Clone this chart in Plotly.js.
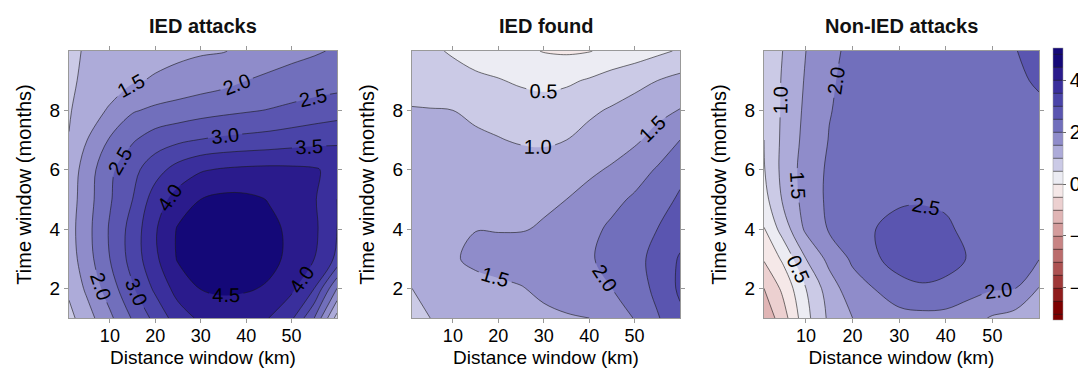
<!DOCTYPE html>
<html><head><meta charset="utf-8">
<script src="https://cdn.plot.ly/plotly-3.0.1.min.js"></script>
<style>html,body{margin:0;padding:0;background:#fff}#chart{width:1078px;height:369px}</style>
</head><body><div id="chart"></div>
<script>
// ---- data (rows: time window 1..10 months, columns: distance window km) ----
const distanceKm = [1, 5, 10, 15, 20, 25, 30, 35, 40, 45, 50, 55, 60];
const timeMonths = [1, 2, 3, 4, 5, 6, 7, 8, 9, 10];
const panelTitles = ['IED attacks', 'IED found', 'Non-IED attacks'];
const xTickVals = [10, 20, 30, 40, 50];
const yTickVals = [2, 4, 6, 8];
const colorbarTicks = [-4, -2, 0, 2, 4];

const iedAttacks = [
  [0.85, 1.3, 1.9, 2.55, 3.15, 3.75, 4.1, 4.25, 4.2, 4.0, 3.6, 2.5, 0.8],
  [1.1, 1.6, 2.25, 2.95, 3.6, 4.2, 4.52, 4.58, 4.55, 4.45, 4.1, 3.5, 2.0],
  [1.25, 1.8, 2.5, 3.2, 3.9, 4.55, 4.75, 4.8, 4.78, 4.62, 4.4, 4.0, 3.4],
  [1.3, 1.85, 2.55, 3.2, 3.95, 4.55, 4.75, 4.8, 4.75, 4.6, 4.42, 4.1, 3.5],
  [1.25, 1.8, 2.45, 3.0, 3.75, 4.2, 4.5, 4.62, 4.6, 4.48, 4.3, 4.05, 3.5],
  [1.2, 1.75, 2.4, 2.85, 3.3, 3.7, 3.95, 4.05, 4.1, 4.12, 4.1, 4.05, 3.85],
  [1.02, 1.5, 2.05, 2.45, 2.75, 2.9, 3.02, 3.1, 3.15, 3.2, 3.28, 3.35, 3.42],
  [0.95, 1.3, 1.55, 1.95, 2.1, 2.2, 2.3, 2.38, 2.45, 2.52, 2.6, 2.7, 2.78],
  [0.88, 1.15, 1.3, 1.45, 1.55, 1.65, 1.75, 1.85, 2.0, 2.1, 2.2, 2.25, 2.3],
  [0.8, 1.1, 1.25, 1.3, 1.35, 1.4, 1.45, 1.48, 1.6, 1.75, 1.85, 1.95, 2.05]
];

const iedFound = [
  [0.85, 1.0, 1.15, 1.25, 1.32, 1.37, 1.42, 1.46, 1.5, 1.75, 2.02, 2.45, 2.9],
  [1.0, 1.12, 1.25, 1.35, 1.42, 1.48, 1.58, 1.7, 1.85, 2.0, 2.2, 2.65, 3.08],
  [1.3, 1.35, 1.45, 1.6, 1.65, 1.68, 1.72, 1.8, 1.95, 2.15, 2.35, 2.65, 3.05],
  [1.32, 1.36, 1.42, 1.49, 1.48, 1.48, 1.53, 1.65, 1.85, 2.1, 2.35, 2.5, 2.8],
  [1.28, 1.3, 1.32, 1.35, 1.38, 1.42, 1.45, 1.5, 1.65, 1.85, 2.08, 2.35, 2.55],
  [1.22, 1.22, 1.22, 1.22, 1.2, 1.2, 1.22, 1.3, 1.42, 1.55, 1.75, 2.05, 2.4],
  [1.15, 1.15, 1.12, 1.07, 1.02, 0.96, 0.93, 1.0, 1.15, 1.3, 1.43, 1.65, 2.0],
  [1.03, 1.02, 1.0, 0.92, 0.85, 0.75, 0.7, 0.78, 0.92, 1.05, 1.2, 1.38, 1.52],
  [0.8, 0.75, 0.68, 0.6, 0.53, 0.43, 0.38, 0.42, 0.55, 0.72, 0.85, 1.0, 1.15],
  [0.7, 0.58, 0.45, 0.3, 0.2, 0.1, -0.02, -0.06, -0.02, 0.12, 0.25, 0.4, 0.55]
];

const nonIedAttacks = [
  [-1.35, -0.75, 0.35, 1.1, 1.5, 1.7, 1.8, 1.85, 1.82, 1.68, 1.45, 1.3, 1.2],
  [-1.0, -0.4, 0.5, 1.25, 1.8, 2.02, 2.35, 2.45, 2.42, 2.2, 2.05, 2.0, 1.48],
  [-0.45, 0.08, 1.0, 1.65, 2.08, 2.45, 2.68, 2.72, 2.62, 2.48, 2.2, 2.1, 2.02],
  [-0.02, 0.7, 1.6, 2.05, 2.28, 2.5, 2.62, 2.62, 2.55, 2.42, 2.32, 2.25, 2.18],
  [0.32, 1.05, 1.7, 2.1, 2.25, 2.38, 2.45, 2.47, 2.45, 2.4, 2.33, 2.28, 2.25],
  [0.47, 1.13, 1.72, 2.08, 2.2, 2.3, 2.37, 2.4, 2.4, 2.37, 2.33, 2.3, 2.3],
  [0.5, 1.1, 1.65, 2.02, 2.16, 2.26, 2.32, 2.35, 2.35, 2.34, 2.33, 2.33, 2.35],
  [0.53, 1.07, 1.6, 1.98, 2.14, 2.24, 2.3, 2.33, 2.34, 2.34, 2.35, 2.37, 2.42],
  [0.55, 1.05, 1.55, 1.95, 2.12, 2.22, 2.27, 2.3, 2.32, 2.35, 2.38, 2.43, 2.55],
  [0.55, 1.0, 1.5, 1.9, 2.1, 2.2, 2.25, 2.3, 2.32, 2.35, 2.4, 2.48, 2.75]
];

// ---- styling ----
const levelStart = -5, levelEnd = 5, levelSize = 0.5;
const bandColors = [
  '#7d0000', '#8f1c1c', '#9f3838', '#ad5252', '#bb6c6c',
  '#c88484', '#d49c9c', '#e0b5b5', '#ecd0d0', '#f5e8e8',
  '#ececf3', '#cbcae6', '#adabd9', '#8f8cca', '#716fbc',
  '#5a55b0', '#4a44a8', '#3a2f9c', '#2a1b8c', '#140878'
];
// plotly maps the colorscale domain onto z as z = (s*nLev - 0.5)*size + start
const nLev = Math.floor((levelEnd - levelStart) / levelSize) + 1;
const zLo = levelStart - levelSize / 2, zSpan = nLev * levelSize;
const colorscale = [[0, bandColors[0]]];
bandColors.forEach((c, k) => {
  const mid = levelStart + levelSize * (k + 0.5);
  colorscale.push([(mid - zLo) / zSpan, c]);
});
colorscale.push([1, bandColors[bandColors.length - 1]]);

const FONT = 'Liberation Sans, Arial, Helvetica, sans-serif';
const W = 1078, H = 369;
const domainsX = [[69 / W, 337 / W], [412 / W, 680 / W], [764 / W, 1039 / W]];
const domainY = [(H - 318) / H, (H - 51) / H];

const zSets = [iedAttacks, iedFound, nonIedAttacks];
const traces = zSets.map((z, i) => ({
  type: 'contour',
  x: distanceKm, y: timeMonths, z: z,
  xaxis: i === 0 ? 'x' : 'x' + (i + 1),
  yaxis: i === 0 ? 'y' : 'y' + (i + 1),
  autocontour: false,
  contours: {start: levelStart, end: levelEnd, size: levelSize, coloring: 'fill',
             showlabels: true, labelformat: '.1f',
             labelfont: {family: FONT, size: 20, color: '#000'}},
  line: {color: '#1a1a1a', width: 0.6, smoothing: 1.0},
  colorscale: colorscale,
  showscale: i === 2,
  colorbar: {x: 1053 / W, xanchor: 'left', xpad: 0, ypad: 0,
             thickness: 10, thicknessmode: 'pixels',
             len: 272 / H, lenmode: 'fraction', y: (H - 184) / H, yanchor: 'middle',
             tickvals: colorbarTicks, ticks: 'outside', ticklen: 3, tickcolor: '#666',
             outlinewidth: 0.5, outlinecolor: '#999',
             tickfont: {family: FONT, size: 20, color: '#000'}},
  hoverinfo: 'skip'
}));

const axisBase = {showline: true, linecolor: '#999', linewidth: 1, mirror: 'ticks',
  ticks: 'outside', ticklen: 4, tickcolor: '#999', showgrid: false, zeroline: false,
  tickfont: {family: FONT, size: 19, color: '#000'}};

const layout = {
  width: W, height: H, margin: {l: 0, r: 0, t: 0, b: 0, autoexpand: false},
  paper_bgcolor: '#fff', plot_bgcolor: '#fff',
  font: {family: FONT, size: 19, color: '#000'},
  showlegend: false, annotations: []
};
for (let i = 0; i < 3; i++) {
  const sx = i === 0 ? '' : String(i + 1);
  layout['xaxis' + sx] = Object.assign({}, axisBase, {
    domain: domainsX[i], range: [1, 60], tickvals: xTickVals, anchor: 'y' + sx,
    tickfont: {family: FONT, size: 18, color: '#000'}, ticklabelstandoff: -3,
    title: {text: 'Distance window (km)', font: {family: FONT, size: 19, color: '#000'}, standoff: 6}
  });
  layout['yaxis' + sx] = Object.assign({}, axisBase, {
    domain: domainY, range: [1, 10], tickvals: yTickVals, anchor: 'x' + sx,
    title: {text: 'Time window (months)', font: {family: FONT, size: 20, color: '#000'}, standoff: 12}
  });
  layout.annotations.push({
    text: '<b>' + panelTitles[i] + '</b>', xref: 'paper', yref: 'paper',
    x: (domainsX[i][0] + domainsX[i][1]) / 2, y: (H - 26) / H,
    xanchor: 'center', yanchor: 'middle', showarrow: false,
    font: {family: FONT, size: 20, color: '#111'}
  });
}

Plotly.newPlot('chart', traces, layout, {staticPlot: true, displayModeBar: false});
</script>
</body></html>
